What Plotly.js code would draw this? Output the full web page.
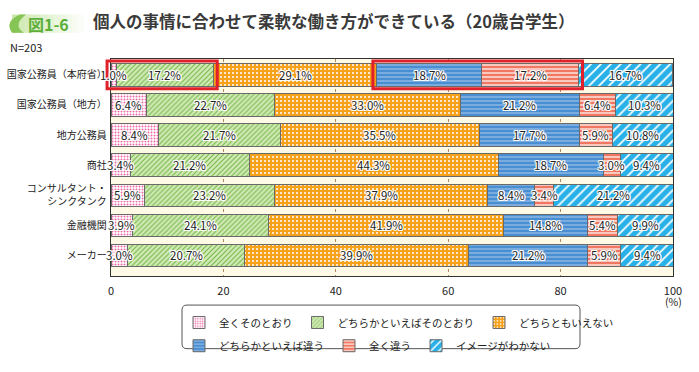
<!DOCTYPE html>
<html>
<head>
<meta charset="utf-8">
<script src="https://cdn.plot.ly/plotly-3.0.1.min.js"></script>
<style>html,body{margin:0;padding:0;background:#fff;}#chart{width:699px;height:372px;}</style>
</head>
<body>
<div id="chart"></div>
<script>
// ---- data ----
const categories = ['国家公務員（本府省）','国家公務員（地方）','地方公務員','商社','コンサルタント・<br>シンクタンク','金融機関','メーカー'];
const seriesNames = ['全くそのとおり','どちらかといえばそのとおり','どちらともいえない','どちらかといえば違う','全く違う','イメージがわかない'];
const s1 = [1.0, 6.4, 8.4, 3.4, 5.9, 3.9, 3.0];
const s2 = [17.2, 22.7, 21.7, 21.2, 23.2, 24.1, 20.7];
const s3 = [29.1, 33.0, 35.5, 44.3, 37.9, 41.9, 39.9];
const s4 = [18.7, 21.2, 17.7, 18.7, 8.4, 14.8, 21.2];
const s5 = [17.2, 6.4, 5.9, 3.0, 3.4, 5.4, 5.9];
const s6 = [16.7, 10.3, 10.8, 9.4, 21.2, 9.9, 9.4];
const xTicks = [0, 20, 40, 60, 80, 100];
const highlightRow = 0;
const highlightGroups = [[0, 1], [3, 4]];
const sampleSize = 'N=203';
const figTag = '図1-6';
const titleText = '個人の事情に合わせて柔軟な働き方ができている（20歳台学生）';
const unitLabel = '(%)';

// ---- styles ----
const series = [s1, s2, s3, s4, s5, s6];
const styles = [
  {bg:'#ffffff', fg:'#EC6AA6', shape:'.', size:3, sol:0.35},
  {bg:'#D3EBB8', fg:'#72B544', shape:'/', size:3.5, sol:0.3},
  {bg:'#F5A11C', fg:'#ffffff', shape:'.', size:4, sol:0.2},
  {bg:'#4A8ED2', fg:'#CFE3F6', shape:'-', size:4, sol:0.18},
  {bg:'#F07862', fg:'#ffffff', shape:'-', size:4, sol:0.3},
  {bg:'#27B1E8', fg:'#ffffff', shape:'/', size:7, sol:0.25}
];
const W = 699, H = 372, L = 111, R = 673, T = 59, B = 283;
const yRange = [6.69, -0.53];
const barWidth = 0.74;
const px = x => (x - L) / (R - L);
const py = y => (B - y) / (B - T);
const yp = v => (yRange[0] - v) / (yRange[0] - yRange[1]);
const font = '"Noto Sans CJK JP", "Noto Sans", sans-serif';
const halo = '1px 0 0 #fff, -1px 0 0 #fff, 0 1px 0 #fff, 0 -1px 0 #fff, 1px 1px 0 #fff, -1px -1px 0 #fff, 1px -1px 0 #fff, -1px 1px 0 #fff';

const traces = series.map((vals, i) => ({
  type: 'bar',
  orientation: 'h',
  name: seriesNames[i],
  x: vals,
  y: categories,
  width: barWidth,
  marker: {
    color: styles[i].bg,
    line: {color: '#6a6a6a', width: 1},
    pattern: {shape: styles[i].shape, bgcolor: styles[i].bg, fgcolor: styles[i].fg, size: styles[i].size, solidity: styles[i].sol, fillmode: 'replace'}
  },
  legend: i < 3 ? 'legend' : 'legend2',
  hoverinfo: 'skip'
}));

// value labels placed at segment centres (computed from the data)
const annotations = [];
categories.forEach((cat, r) => {
  let cum = 0;
  series.forEach(vals => {
    const v = vals[r];
    annotations.push({xref: 'x', yref: 'y', x: cum + v / 2, y: cat, text: v.toFixed(1) + '%', showarrow: false,
      xanchor: 'center', yanchor: 'middle', font: {family: font, size: 11.5, color: '#222', shadow: halo}});
    cum += v;
  });
});

// highlight boxes computed from the data
const shapes = [];
highlightGroups.forEach(g => {
  let start = 0;
  for (let k = 0; k < g[0]; k++) start += series[k][highlightRow];
  let end = start;
  for (let k = g[0]; k <= g[1]; k++) end += series[k][highlightRow];
  const pad = 0.7;
  shapes.push({
    type: 'rect', xref: 'paper', yref: 'paper', layer: 'above',
    x0: (start - pad) / 100, x1: (end + pad) / 100,
    y0: yp(highlightRow + barWidth / 2 + 0.09), y1: yp(highlightRow - barWidth / 2 - 0.09),
    line: {color: '#E0202A', width: 3}, fillcolor: 'rgba(0,0,0,0)'
  });
});

// legend rounded border
function roundRect(x0, y0, x1, y1, r) {
  const P = (x, y) => px(x) + ',' + py(y);
  return 'M' + P(x0 + r, y0) + ' L' + P(x1 - r, y0) + ' Q' + P(x1, y0) + ' ' + P(x1, y0 + r) +
    ' L' + P(x1, y1 - r) + ' Q' + P(x1, y1) + ' ' + P(x1 - r, y1) +
    ' L' + P(x0 + r, y1) + ' Q' + P(x0, y1) + ' ' + P(x0, y1 - r) +
    ' L' + P(x0, y0 + r) + ' Q' + P(x0, y0) + ' ' + P(x0 + r, y0) + ' Z';
}
shapes.push({type: 'path', xref: 'paper', yref: 'paper', path: roundRect(182, 313, 580, 358, 5), line: {color: '#555', width: 1}, layer: 'below'});

// title badge (gradient simulated)
const badgeSteps = 12;
for (let k = 0; k < badgeSteps; k++) {
  const x0 = 12 + k * 6, x1 = x0 + 6;
  const a = 0.9 - k * 0.075;
  shapes.push({type: 'rect', xref: 'paper', yref: 'paper', x0: px(x0), x1: px(x1), y0: py(32), y1: py(13),
    fillcolor: 'rgba(200,230,165,' + Math.max(a, 0.04) + ')', line: {width: 0}, layer: 'below'});
}
shapes.push({type: 'path', xref: 'paper', yref: 'paper', layer: 'below',
  path: 'M' + px(20) + ',' + py(13) + ' Q' + px(4) + ',' + py(20) + ' ' + px(12) + ',' + py(32) +
        ' L' + px(24) + ',' + py(32) + ' Q' + px(12) + ',' + py(24) + ' ' + px(26) + ',' + py(13) + ' Z',
  fillcolor: '#86C455', line: {width: 0}});

annotations.push(
  {xref: 'paper', yref: 'paper', x: px(8), y: py(47), xanchor: 'left', yanchor: 'middle', text: sampleSize, showarrow: false, font: {size: 11, color: '#222'}},
  {xref: 'paper', yref: 'paper', x: px(673), y: py(299), xanchor: 'center', yanchor: 'top', text: unitLabel, showarrow: false, font: {size: 10.5, color: '#222'}},
  {xref: 'paper', yref: 'paper', x: px(48), y: py(22.5), xanchor: 'center', yanchor: 'middle', text: figTag, showarrow: false, font: {family: font, size: 16, color: '#5DAE3A', weight: 'bold'}}
);

const legendBase = {orientation: 'h', x: px(179), xanchor: 'left', yanchor: 'top', traceorder: 'normal', font: {size: 10.5, color: '#222'}, bgcolor: 'rgba(0,0,0,0)', itemclick: false, itemdoubleclick: false};

const layout = {
  width: W, height: H,
  margin: {l: L, r: W - R, t: T, b: H - B},
  paper_bgcolor: '#ffffff',
  plot_bgcolor: '#FFFAE6',
  barmode: 'stack',
  font: {family: font, size: 11, color: '#222'},
  title: {text: titleText, xref: 'container', yref: 'container', x: 93 / W, xanchor: 'left', y: 1 - 22 / H, yanchor: 'middle',
    font: {family: font, size: 16.5, color: '#3a3a3a', weight: 'bold'}},
  xaxis: {range: [0, 100], tickvals: xTicks, ticktext: xTicks.map(String), showgrid: true, gridcolor: '#B08A5E', griddash: '3px,3px', gridwidth: 1,
    zeroline: false, showline: true, linecolor: '#333', linewidth: 1.2, mirror: true, ticks: '', ticklabelstandoff: 5, tickfont: {size: 11, color: '#222'}, fixedrange: true},
  yaxis: {type: 'category', categoryarray: categories, range: yRange, showgrid: false, zeroline: false, showline: true, linecolor: '#333', linewidth: 1.2, mirror: true,
    ticks: '', tickfont: {size: 10, color: '#222'}, ticklabelstandoff: 1, fixedrange: true},
  legend: Object.assign({}, legendBase, {y: py(316)}),
  legend2: Object.assign({}, legendBase, {y: py(340)}),
  shapes: shapes,
  annotations: annotations
};

Plotly.newPlot('chart', traces, layout, {displayModeBar: false, staticPlot: true});
</script>
</body>
</html>
